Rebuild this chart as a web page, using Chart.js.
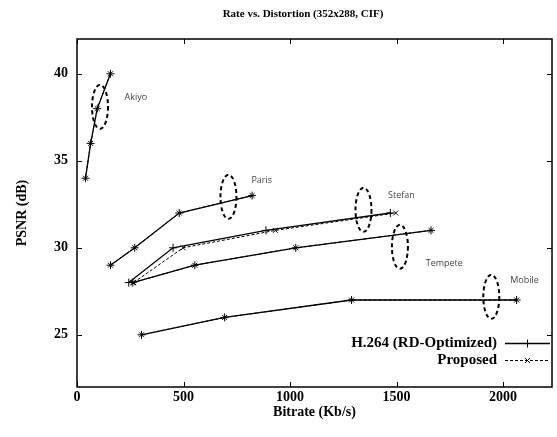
<!DOCTYPE html>
<html><head><meta charset="utf-8">
<script src="https://cdn.jsdelivr.net/npm/chart.js@4.4.0/dist/chart.umd.min.js"></script>
<style>html,body{margin:0;padding:0;background:#fff;}canvas{display:block;}</style>
</head><body>
<canvas id="c" width="557" height="437"></canvas>
<script>
const xTicks = [0, 500, 1000, 1500, 2000];
const yTicks = [25, 30, 35, 40];
const sequences = ['Akiyo', 'Paris', 'Stefan', 'Tempete', 'Mobile'];
const seriesNames = ['H.264 (RD-Optimized)', 'Proposed'];

const akiyoPsnr = [34, 36, 38, 40];
const akiyoH264 = [40, 64, 95, 157];
const akiyoProp = [40, 64, 95, 157];

const parisPsnr = [29, 30, 32, 33];
const parisH264 = [157, 271, 480, 822];
const parisProp = [157, 271, 480, 822];

const stefanPsnr = [28, 30, 31, 32];
const stefanH264 = [243, 451, 887, 1471];
const stefanProp = [266, 498, 931, 1496];

const tempetePsnr = [28, 29, 30, 31];
const tempeteH264 = [262, 553, 1027, 1662];
const tempeteProp = [262, 553, 1027, 1662];

const mobilePsnr = [25, 26, 27, 27];
const mobileH264 = [303, 693, 1289, 2064];
const mobileProp = [303, 693, 1289, 2064];

// annotation anchors (data units)
const labelRate = [223, 819, 1460, 1637, 2034];
const labelPsnr = [38.64, 33.9, 32.99, 29.1, 28.14];
const ellipseRate = [108, 711, 1345, 1516, 1945];
const ellipsePsnr = [38.1, 32.93, 32.18, 30.06, 27.18];

const seqData = [
  [akiyoPsnr, akiyoH264, akiyoProp],
  [parisPsnr, parisH264, parisProp],
  [stefanPsnr, stefanH264, stefanProp],
  [tempetePsnr, tempeteH264, tempeteProp],
  [mobilePsnr, mobileH264, mobileProp]
];

const datasets = [];
seqData.forEach(([psnr, h, p], si) => {
  datasets.push({
    label: seriesNames[0] + ' ' + sequences[si],
    data: h.map((r, i) => ({x: r, y: psnr[i]})),
    borderColor: '#000', backgroundColor: '#000', borderWidth: 1.3,
    pointStyle: 'cross', pointRadius: 4, pointBorderWidth: 1, pointBorderColor: '#000',
    showLine: true, tension: 0
  });
  datasets.push({
    label: seriesNames[1] + ' ' + sequences[si],
    data: p.map((r, i) => ({x: r, y: psnr[i]})),
    borderColor: '#000', backgroundColor: '#000', borderWidth: 1, borderDash: [3, 2],
    pointStyle: 'crossRot', pointRadius: 3.5, pointBorderWidth: 1, pointBorderColor: '#000',
    showLine: true, tension: 0
  });
});

const serif = '"Liberation Serif", "Times New Roman", serif';

const decor = {
  id: 'decor',
  afterDraw(chart) {
    const {ctx, chartArea: a, scales: {x, y}} = chart;
    const line = (x1, y1, x2, y2) => { ctx.beginPath(); ctx.moveTo(x1, y1); ctx.lineTo(x2, y2); ctx.stroke(); };
    ctx.save();
    // ellipses
    ctx.strokeStyle = '#000'; ctx.lineWidth = 2; ctx.setLineDash([4, 3]);
    ellipseRate.forEach((r, i) => {
      ctx.beginPath();
      ctx.ellipse(x.getPixelForValue(r), y.getPixelForValue(ellipsePsnr[i]), 8, 22, 0, 0, Math.PI * 2);
      ctx.stroke();
    });
    ctx.setLineDash([]);
    // sequence labels
    ctx.fillStyle = '#444'; ctx.font = '9px "Open Sans", sans-serif';
    ctx.textAlign = 'left'; ctx.textBaseline = 'middle';
    sequences.forEach((s, i) => ctx.fillText(s, x.getPixelForValue(labelRate[i]), y.getPixelForValue(labelPsnr[i])));
    // frame
    ctx.strokeStyle = '#000'; ctx.lineWidth = 1.5;
    ctx.strokeRect(a.left, a.top, a.right - a.left, a.bottom - a.top);
    ctx.lineWidth = 1;
    xTicks.forEach(v => {
      const px = Math.round(x.getPixelForValue(v)) + 0.5;
      line(px, a.bottom, px, a.bottom - 5); line(px, a.top, px, a.top + 5);
    });
    yTicks.forEach(v => {
      const py = Math.round(y.getPixelForValue(v)) + 0.5;
      line(a.left, py, a.left + 5, py); line(a.right, py, a.right - 5, py);
    });
    // title
    ctx.fillStyle = '#000'; ctx.textAlign = 'center'; ctx.textBaseline = 'middle';
    ctx.font = 'bold 11px ' + serif;
    ctx.fillText('Rate vs. Distortion (352x288, CIF)', 303, 14);
    // legend
    ctx.font = 'bold 15px ' + serif; ctx.textAlign = 'right';
    const lx = 497, ly = [343, 360];
    seriesNames.forEach((n, i) => {
      ctx.fillText(n, lx, ly[i]);
      const yy = Math.round(ly[i]) + 0.5;
      ctx.lineWidth = i === 0 ? 1.3 : 1;
      ctx.setLineDash(i === 0 ? [] : [3, 2]);
      line(505, yy, 550, yy);
      ctx.setLineDash([]);
      ctx.lineWidth = 1;
      if (i === 0) { line(527.5, yy - 4, 527.5, yy + 4); line(523.5, yy, 531.5, yy); }
      else { line(525, yy - 2.5, 530, yy + 2.5); line(525, yy + 2.5, 530, yy - 2.5); }
    });
    ctx.restore();
  }
};

new Chart(document.getElementById('c'), {
  type: 'scatter',
  data: {datasets},
  options: {
    responsive: false, animation: false, devicePixelRatio: 1,
    layout: {padding: {top: 39, right: 2, left: 0, bottom: 0}},
    plugins: {legend: {display: false}, title: {display: false}, tooltip: {enabled: false}},
    scales: {
      x: {
        type: 'linear', min: 0, max: 2230,
        afterBuildTicks: s => { s.ticks = xTicks.map(v => ({value: v})); },
        afterFit: s => { s.height = 50; },
        ticks: {color: '#000', font: {family: serif, size: 14, weight: 'bold'}, padding: 2, maxRotation: 0, callback: v => String(v)},
        grid: {display: false, drawTicks: false}, border: {display: false},
        title: {display: true, text: 'Bitrate (Kb/s)', color: '#000', font: {family: serif, size: 14, weight: 'bold'}, padding: {top: 0, bottom: 16}}
      },
      y: {
        type: 'linear', min: 22, max: 42,
        afterBuildTicks: s => { s.ticks = yTicks.map(v => ({value: v})); },
        afterFit: s => { s.width = 77; },
        ticks: {color: '#000', font: {family: serif, size: 14, weight: 'bold'}, padding: 9, callback: v => String(v)},
        grid: {display: false, drawTicks: false}, border: {display: false},
        title: {display: true, text: 'PSNR (dB)', color: '#000', font: {family: serif, size: 14, weight: 'bold'}, padding: {top: 14, bottom: 0}}
      }
    }
  },
  plugins: [decor]
});
</script>
</body></html>
